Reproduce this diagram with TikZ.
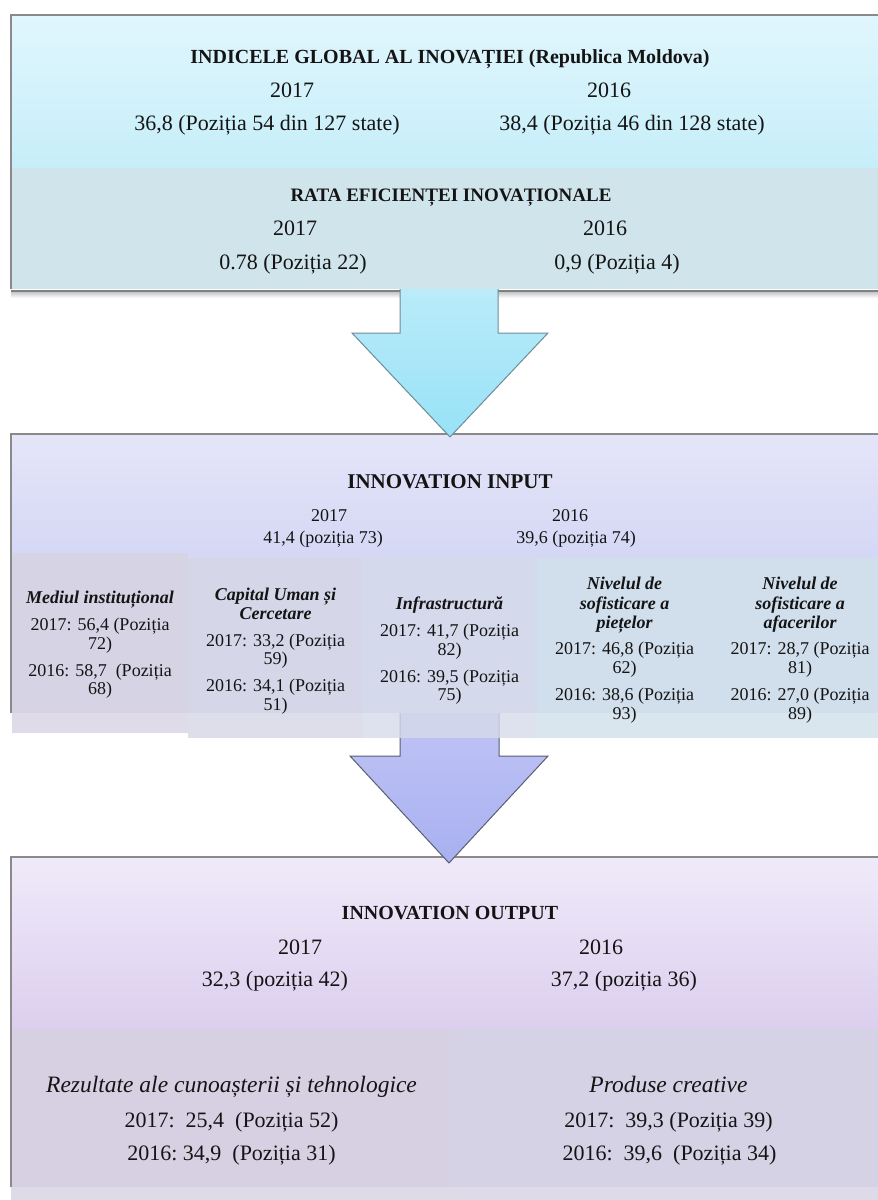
\documentclass[tikz,border=0pt]{standalone}
\usepackage{fontspec}
\setmainfont{Liberation Serif}
\definecolor{topA}{HTML}{E1F6FD}
\definecolor{topB}{HTML}{C6EEF9}
\definecolor{rataBg}{HTML}{D0E4EC}
\definecolor{arrAtop}{HTML}{BAEBF9}
\definecolor{arrAbot}{HTML}{98E2F7}
\definecolor{arrAedge}{HTML}{6E8C96}
\definecolor{midA}{HTML}{E5E5F9}
\definecolor{midB}{HTML}{D5D8F5}
\definecolor{arrBtop}{HTML}{C0C4F5}
\definecolor{arrBbot}{HTML}{A8B0F0}
\definecolor{arrBedge}{HTML}{5A5E70}
\definecolor{botA}{HTML}{EFEAF9}
\definecolor{botB}{HTML}{DCCFEE}
\definecolor{botL}{HTML}{D6D0E2}
\definecolor{botR}{HTML}{D4D2E4}
\definecolor{botStrip}{HTML}{DEDAE8}
\definecolor{edge}{HTML}{8A8A8A}
\definecolor{colA}{RGB}{215,210,226}
\definecolor{colB}{RGB}{214,214,229}
\definecolor{colC}{RGB}{214,218,234}
\definecolor{colD}{RGB}{209,224,234}
\definecolor{ink}{HTML}{141414}
\newcommand{\colttl}[1]{{\bfseries\itshape #1}}
\begin{document}
\begin{tikzpicture}[x=1pt,y=-1pt,
  boxedge/.style={draw=edge,line width=1.5pt},
  head20/.style={inner sep=0pt,text=ink,font=\fontsize{20}{24}\selectfont\bfseries,text height=13.2pt,text depth=0pt},
  head19/.style={inner sep=0pt,text=ink,font=\fontsize{19}{23}\selectfont\bfseries,text height=12.6pt,text depth=0pt},
  head21/.style={inner sep=0pt,text=ink,font=\fontsize{21}{25}\selectfont\bfseries,text height=13.9pt,text depth=0pt},
  val22/.style={inner sep=0pt,text=ink,font=\fontsize{22}{26}\selectfont,text height=14.6pt,text depth=0pt},
  val18/.style={inner sep=0pt,text=ink,font=\fontsize{18}{22}\selectfont,text height=12pt,text depth=0pt},
  ital/.style={inner sep=0pt,text=ink,font=\fontsize{23.5}{27}\selectfont\itshape,text height=15.5pt,text depth=0pt},
  coltxt/.style={inner sep=0pt,text=ink,align=center,anchor=north,font=\fontsize{18}{18.5}\selectfont},
  coltxtw/.style={inner sep=0pt,text=ink,align=center,anchor=north,font=\fontsize{18}{19.3}\selectfont},
  colfill/.style={fill opacity=0.8}
]
\useasboundingbox (0,0) rectangle (878,1200);

% ---------- top box ----------
\shade[top color=topA,bottom color=topB] (11,15) rectangle (882,168);
\fill[rataBg] (11,168) rectangle (882,289);
\fill[black!50] (11,289.5) rectangle (882,292);
\shade[top color=black!22,bottom color=white] (11,292) rectangle (882,298);
\draw[boxedge] (11,289) -- (11,15) -- (882,15);

% ---------- middle box ----------
\shade[top color=midA,bottom color=midB] (11,434) rectangle (882,553);
\fill[midB] (11,553) rectangle (882,713);
\draw[boxedge] (11,713) -- (11,434) -- (882,434);

% ---------- bottom box ----------
\shade[top color=botA,bottom color=botB] (11,857) rectangle (882,1029);
\fill[botL] (11,1029) rectangle (449,1187);
\fill[botR] (449,1029) rectangle (882,1187);
\fill[botStrip] (11,1187) rectangle (882,1202);
\draw[boxedge] (11,1187) -- (11,857) -- (882,857);

% ---------- arrows ----------
\coordinate (a1tip) at (450,437);
\shade[top color=arrAtop,bottom color=arrAbot,draw=arrAedge,line width=1pt]
  (400,289) -- (400,333) -- (352,333) -- (a1tip) -- (548,333) -- (498,333) -- (498,289);
\coordinate (a2tip) at (449,863);
\shade[top color=arrBtop,bottom color=arrBbot,draw=arrBedge,line width=1pt]
  (400,713) -- (400,756) -- (350,756) -- (a2tip) -- (548,756) -- (499,756) -- (499,713);

% ---------- input columns ----------
\fill[colA,colfill] (12,553) rectangle (188,733);
\fill[colB,colfill] (188,558) rectangle (363,738);
\fill[colC,colfill] (363,558) rectangle (537,738);
\fill[colD,colfill] (537,558) rectangle (712,738);
\fill[colD,colfill] (712,558) rectangle (882,738);

% ---------- texts: top ----------
\node[head20] (gii) at (450,57) {INDICELE GLOBAL AL INOVAȚIEI (Republica Moldova)};
\node[val22] (gy17) at (292,90) {2017};
\node[val22] (gy16) at (609,90) {2016};
\node[val22] (gv17) at (267,123) {36,8 (Poziția 54 din 127 state)};
\node[val22] (gv16) at (632,123) {38,4 (Poziția 46 din 128 state)};
\node[head19] (rei) at (451,195) {RATA EFICIENȚEI INOVAȚIONALE};
\node[val22] (ry17) at (295,228) {2017};
\node[val22] (ry16) at (605,228) {2016};
\node[val22] (rv17) at (293,262) {0.78 (Poziția 22)};
\node[val22] (rv16) at (617,262) {0,9 (Poziția 4)};

% ---------- texts: input ----------
\node[head21] (inp) at (450,482) {INNOVATION INPUT};
\node[val18] (iy17) at (329,515) {2017};
\node[val18] (iy16) at (570,515) {2016};
\node[val18] (iv17) at (323,537) {41,4 (poziția 73)};
\node[val18] (iv16) at (576,537) {39,6 (poziția 74)};

\node[coltxt] (c1) at (100,591) {\colttl{Mediul instituțional}\\[8.5pt]2017: 56,4 (Poziția\\72)\\[8.5pt]2016: 58,7 \ (Poziția\\68)};
\node[coltxt] (c2) at (275.5,588) {\colttl{Capital Uman și}\\\colttl{Cercetare}\\[8.5pt]2017: 33,2 (Poziția\\59)\\[8.5pt]2016: 34,1 (Poziția\\51)};
\node[coltxt] (c3) at (449.5,597) {\colttl{Infrastructură}\\[8.5pt]2017: 41,7 (Poziția\\82)\\[8.5pt]2016: 39,5 (Poziția\\75)};
\node[coltxtw] (c4) at (624.5,577) {\colttl{Nivelul de}\\\colttl{sofisticare a}\\\colttl{piețelor}\\[7pt]2017: 46,8 (Poziția\\62)\\[7pt]2016: 38,6 (Poziția\\93)};
\node[coltxtw] (c5) at (800,577) {\colttl{Nivelul de}\\\colttl{sofisticare a}\\\colttl{afacerilor}\\[7pt]2017: 28,7 (Poziția\\81)\\[7pt]2016: 27,0 (Poziția\\89)};

% ---------- texts: output ----------
\node[head20] (outp) at (450,913) {INNOVATION OUTPUT};
\node[val22] (oy17) at (300,947) {2017};
\node[val22] (oy16) at (601,947) {2016};
\node[val22] (ov17) at (275,979) {32,3 (poziția 42)};
\node[val22] (ov16) at (624,979) {37,2 (poziția 36)};
\node[ital] (rct) at (231.5,1085) {Rezultate ale cunoașterii și tehnologice};
\node[val22] (r17) at (231.5,1120) {2017:\ \ 25,4\ \ (Poziția 52)};
\node[val22] (r16) at (231.5,1153) {2016:\ 34,9\ \ (Poziția 31)};
\node[ital] (pc) at (668.5,1085) {Produse creative};
\node[val22] (p17) at (668.5,1120) {2017:\ \ 39,3 (Poziția 39)};
\node[val22] (p16) at (669.5,1153) {2016:\ \ 39,6\ \ (Poziția 34)};
\end{tikzpicture}
\end{document}
